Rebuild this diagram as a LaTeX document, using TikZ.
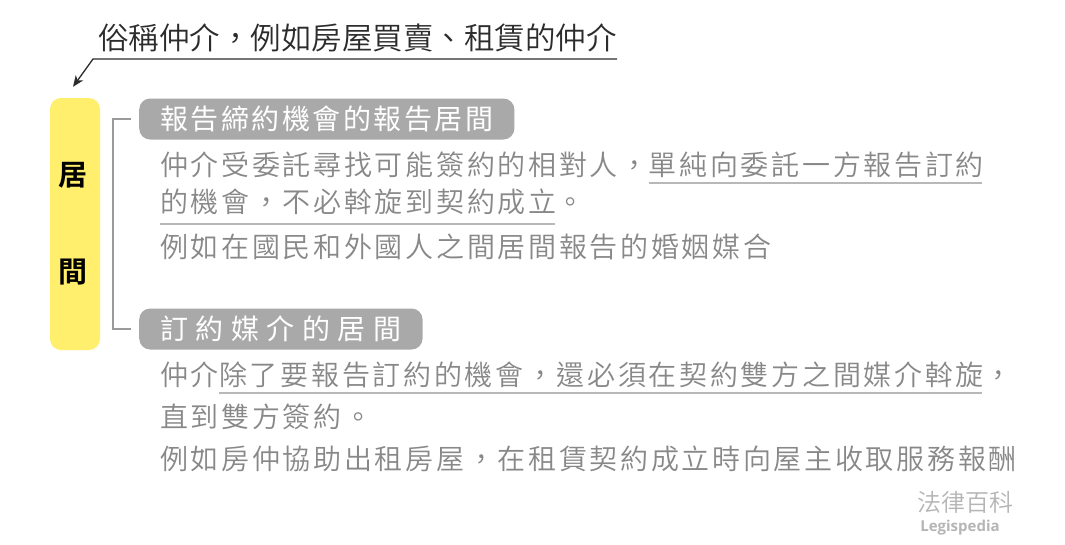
\documentclass[tikz,border=0pt]{standalone}
\usepackage{fontspec}
\usetikzlibrary{arrows.meta}
\newfontfamily\cjktitle{Noto Sans CJK TC DemiLight}
\newfontfamily\cjk[LetterSpace=9.6]{Noto Sans CJK TC DemiLight}
\newfontfamily\cjkpill[LetterSpace=9]{Noto Sans CJK TC}
\newfontfamily\cjkpillsp[LetterSpace=27]{Noto Sans CJK TC}
\newfontfamily\cjkwm{Noto Sans CJK TC DemiLight}
\newfontfamily\cjkbold{Noto Sans CJK TC Bold}
\newfontfamily\latsansbold{Open Sans Bold}
\definecolor{titlec}{HTML}{2C2C2C}
\definecolor{bodyc}{HTML}{888888}
\definecolor{pillc}{HTML}{A9A9A9}
\definecolor{ulc}{HTML}{B8B8B8}
\definecolor{brc}{HTML}{9A9A9A}
\definecolor{yel}{HTML}{FFEF6C}
\definecolor{wmc}{HTML}{B5B5B5}
\begin{document}
\begin{tikzpicture}[x=1pt,y=-1pt,
  every node/.style={inner sep=0pt},
  titletext/.style={anchor=west,text=titlec,font=\cjktitle\fontsize{30.5}{36}\selectfont},
  body/.style={anchor=west,text=bodyc,font=\cjk\fontsize{28}{34}\selectfont},
  bodycont/.style={anchor=base west,text=bodyc,font=\cjk\fontsize{28}{34}\selectfont},
  pill/.style={anchor=west,fill=pillc,text=white,rounded corners=11pt,minimum height=41pt,inner xsep=21pt,font=\cjkpill\fontsize{28}{34}\selectfont},
  uline/.style={draw=ulc,line width=2pt},
  bracket/.style={draw=brc,line width=1.5pt},
  yeltext/.style={text=black,font=\cjkbold\fontsize{29}{32}\selectfont}]
\useasboundingbox (0,0) rectangle (1065,544);
\fill[white] (0,0) rectangle (1065,544);

% title
\node[titletext] (title) at (98,38) {俗稱仲介，例如房屋買賣、租賃的仲介};

% yellow box
\node[fill=yel,rounded corners=11pt,minimum width=50pt,minimum height=252pt] (yellow) at (75,224) {};
\node[yeltext] (ju) at (73,175) {居};
\node[yeltext] (jian) at (73,272) {間};

% arrow from title to box
\coordinate (ulend) at (617,59);
\coordinate (ulstart) at (93,59);
\draw[titlec,line width=1.3pt,-{Stealth[length=11pt,width=9pt,inset=3pt]}] (ulend) -- (ulstart) -- ([xshift=-2pt,yshift=11pt]yellow.north);

% pills
\node[pill] (p1) at (139,119) {報告締約機會的報告居間};
\node[pill,font=\cjkpillsp\fontsize{28}{34}\selectfont] (p2) at (139,329) {訂約媒介的居間};

% bracket
\draw[bracket] ([xshift=-8pt]p1.west) -- ++(-18,0) |- ([xshift=-8pt]p2.west);

% section 1
\node[body] (s1a) at (160,165) {仲介受委託尋找可能簽約的相對人，};
\node[bodycont] (s1b) at (s1a.base east) {單純向委託一方報告訂約};
\draw[uline] ([yshift=-18pt]s1b.west) -- ([yshift=-18pt,xshift=-2pt]s1b.east);
\node[body] (s2a) at (160,202) {的機會，不必斡旋到契約成立};
\node[bodycont] (s2b) at (s2a.base east) {。};
\draw[uline] ([yshift=-22pt]s2a.west) -- ([yshift=-22pt,xshift=-2pt]s2a.east);
\node[body] (s3) at (160,247) {例如在國民和外國人之間居間報告的婚姻媒合};

% section 2
\node[body] (t1a) at (160,375) {仲介};
\node[bodycont] (t1b) at (t1a.base east) {除了要報告訂約的機會，還必須在契約雙方之間媒介斡旋};
\node[bodycont] (t1c) at (t1b.base east) {，};
\draw[uline] ([yshift=-18pt]t1b.west) -- ([yshift=-18pt,xshift=-2pt]t1b.east);
\node[body] (t2) at (160,417) {直到雙方簽約。};
\node[body] (t3) at (160,459) {例如房仲協助出租房屋，在租賃契約成立時向屋主收取服務報酬};

% watermark
\node[text=wmc,font=\cjkwm\fontsize{24}{28}\selectfont] (wm1) at (965,502) {法律百科};
\node[text=wmc,font=\latsansbold\fontsize{15}{18}\selectfont] (wm2) at (960,528) {Legispedia};
\end{tikzpicture}
\end{document}
